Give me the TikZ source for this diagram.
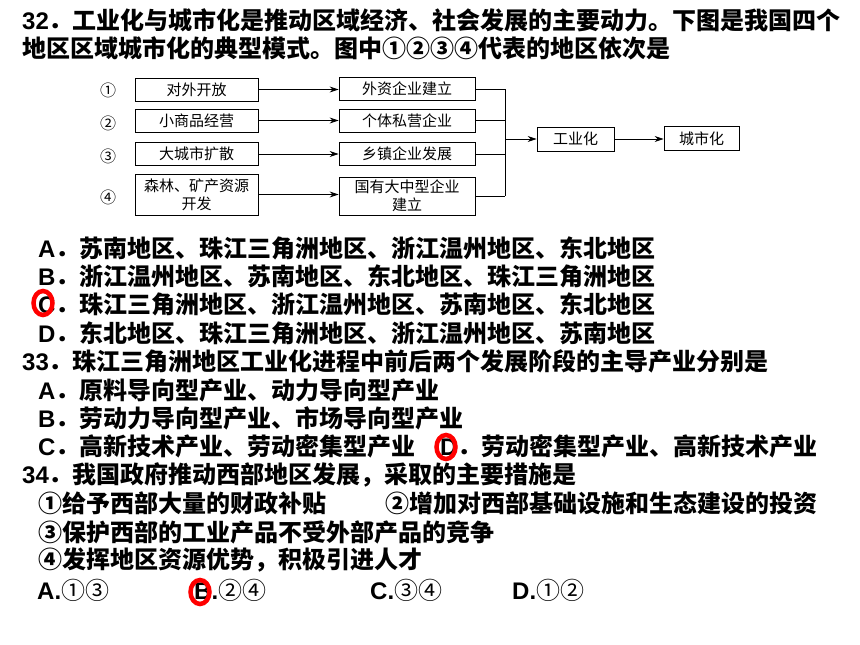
\documentclass[tikz,border=0pt]{standalone}
\usepackage{fontspec}
\setmainfont{Liberation Sans}
\newfontfamily\cjk{Noto Sans CJK SC}
\usetikzlibrary{arrows.meta,shapes.geometric}
\newcommand{\zh}[1]{{\cjk #1}}
\newcommand{\bigtxt}{\fontsize{24}{24}\selectfont}
\begin{document}
\begin{tikzpicture}[x=1pt,y=-1pt]

    \tikzset{
      row/.style={
        anchor=west,
        inner sep=0pt,
        font=\bigtxt\bfseries,
      },
      box/.style={
        draw,
        line width=0.8pt,
        inner sep=0pt,
        align=center,
        minimum height=23pt,
        font=\cjk\fontsize{15}{18}\selectfont,
      },
      num/.style={inner sep=0pt, font=\cjk\fontsize{16}{16}\selectfont},
      flow/.style={line width=0.8pt, -{Stealth[length=9pt,width=6pt]}},
      wire/.style={line width=0.8pt},
      redring/.style={
        ellipse,
        draw=red,
        line width=4.5pt,
        inner sep=0pt,
        minimum width=19pt,
        minimum height=24pt,
      },
    }
    \useasboundingbox (0,0) rectangle (860,645);
	% question 32
	\node[row] (q32) at (22,20) {32\zh{．工业化与城市化是推动区域经济、社会发展的主要动力。下图是我国四个}};
	\node[row] (q32b) at (22,48) {\zh{地区区域城市化的典型模式。图中①②③④代表的地区依次是}};
	% diagram
	\node[num] (n1) at (108,90) {①};
	\node[num] (n2) at (108,123) {②};
	\node[num] (n3) at (108,156) {③};
	\node[num] (n4) at (108,197) {④};
	\node[box, minimum width=123pt] (open) at (196.5,89.5) {对外开放};
	\node[box, minimum width=123pt] (trade) at (196.5,120.5) {小商品经营};
	\node[box, minimum width=123pt] (spread) at (196.5,154) {大城市扩散};
	\node[box, minimum width=123pt, minimum height=41pt] (mine) at (196.5,194.5) {森林、矿产资源\\开发};
	\node[box, minimum width=136pt] (foreign) at (407,89) {外资企业建立};
	\node[box, minimum width=136pt] (private) at (407,120.5) {个体私营企业};
	\node[box, minimum width=136pt] (town) at (407,154) {乡镇企业发展};
	\node[box, minimum width=136pt, minimum height=38pt] (state) at (407,196) {国有大中型企业\\建立};
	\node[box, minimum width=77pt, minimum height=24pt] (indus) at (575.5,139) {工业化};
	\node[box, minimum width=75pt, minimum height=24pt] (urban) at (701.5,138.5) {城市化};
	\coordinate (join) at (505,139);
	\draw[flow] (open.east) -- (open.east -| foreign.west);
	\draw[flow] (trade.east) -- (trade.east -| private.west);
	\draw[flow] (spread.east) -- (spread.east -| town.west);
	\draw[flow] (mine.east) -- (mine.east -| state.west);
	\draw[wire] (foreign.east) -- (foreign.east -| join);
	\draw[wire] (private.east) -- (private.east -| join);
	\draw[wire] (town.east) -- (town.east -| join);
	\draw[wire] (state.east) -- (state.east -| join);
	\draw[wire] (foreign.east -| join) -- (state.east -| join);
	\draw[flow] (join) -- (indus);
	\draw[flow] (indus.east) -- (indus.east -| urban.west);
	% options 32
	\node[row] (a32) at (38,248) {A\zh{．苏南地区、珠江三角洲地区、浙江温州地区、东北地区}};
	\node[row] (b32) at (38,276.4) {B\zh{．浙江温州地区、苏南地区、东北地区、珠江三角洲地区}};
	\node[row] (c32) at (38,304.8) {C\zh{．珠江三角洲地区、浙江温州地区、苏南地区、东北地区}};
	\node[row] (d32) at (38,333.2) {D\zh{．东北地区、珠江三角洲地区、浙江温州地区、苏南地区}};
	% question 33
	\node[row] (q33) at (22,361.6) {33\zh{．珠江三角洲地区工业化进程中前后两个发展阶段的主导产业分别是}};
	\node[row] (a33) at (38,390) {A\zh{．原料导向型产业、动力导向型产业}};
	\node[row] (b33) at (38,418.4) {B\zh{．劳动力导向型产业、市场导向型产业}};
	\node[row] (c33) at (38,446.8) {C\zh{．高新技术产业、劳动密集型产业}};
	\node[row] (d33) at (440,446.8) {D\zh{．劳动密集型产业、高新技术产业}};
	% question 34
	\node[row] (q34) at (22,475.2) {34\zh{．我国政府推动西部地区发展，采取的主要措施是}};
	\node[row] (s1) at (38,503.6) {\zh{①给予西部大量的财政补贴}};
	\node[row] (s2) at (385,503.6) {\zh{②增加对西部基础设施和生态建设的投资}};
	\node[row] (s3) at (38,532) {\zh{③保护西部的工业产品不受外部产品的竞争}};
	\node[row] (s4) at (38,560.4) {\zh{④发挥地区资源优势，积极引进人才}};
	\node[row] (a34) at (37,590) {A.\zh{\mdseries ①③}};
	\node[row] (b34) at (194,590) {B.\zh{\mdseries ②④}};
	\node[row] (c34) at (370,590) {C.\zh{\mdseries ③④}};
	\node[row] (d34) at (512,590) {D.\zh{\mdseries ①②}};
	% answer marks
	\node[redring] (ring32) at (43,303) {};
	\node[redring] (ring33) at (446,447) {};
	\node[redring] (ring34) at (200,592) {};

\end{tikzpicture}
\end{document}
